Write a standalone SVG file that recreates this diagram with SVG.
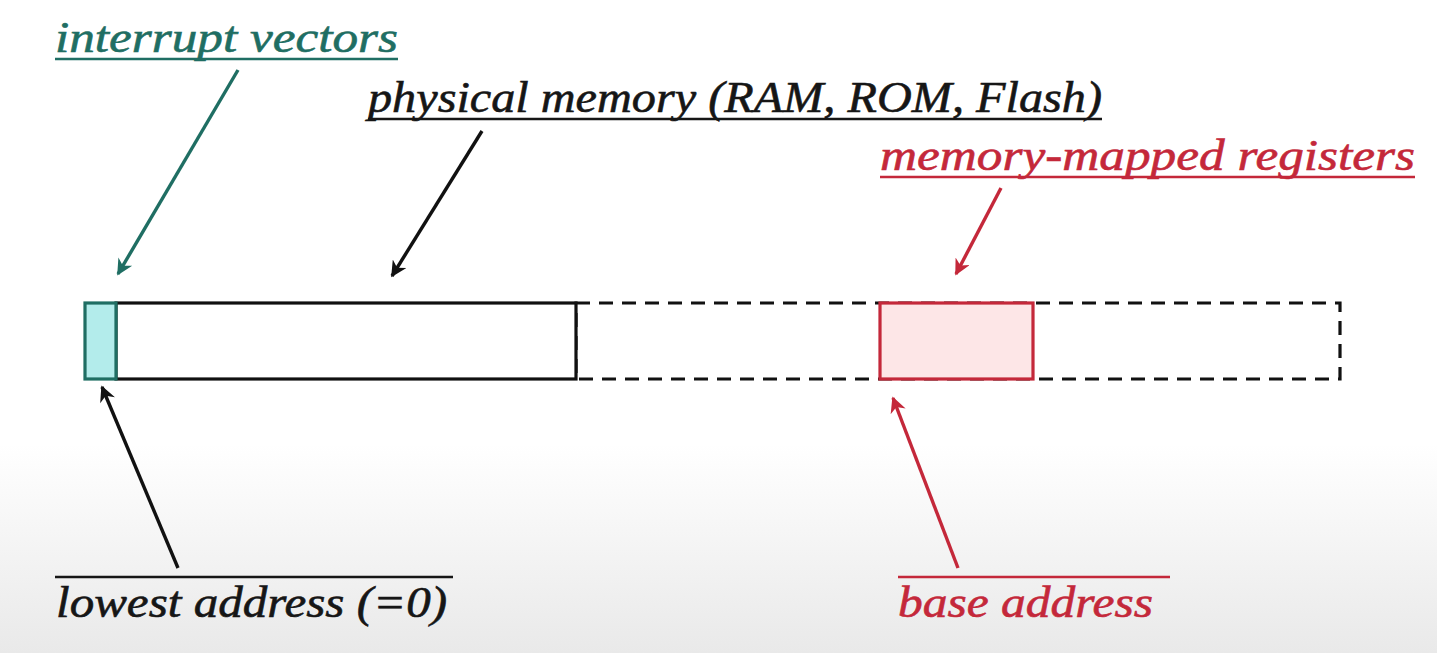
<svg xmlns="http://www.w3.org/2000/svg" width="1437" height="653" viewBox="0 0 1437 653">
<defs>
<linearGradient id="bg" x1="0" y1="0" x2="0" y2="653" gradientUnits="userSpaceOnUse">
<stop offset="0" stop-color="#ffffff"/>
<stop offset="0.68" stop-color="#ffffff"/>
<stop offset="1" stop-color="#e9e9e9"/>
</linearGradient>
<marker id="ah-k" viewBox="0 0 10 10" refX="9" refY="5" markerWidth="20" markerHeight="16" markerUnits="userSpaceOnUse" orient="auto"><path d="M0,0 L10,5 L0,10 L3,5 Z" fill="#111"/></marker>
<marker id="ah-t" viewBox="0 0 10 10" refX="9" refY="5" markerWidth="20" markerHeight="16" markerUnits="userSpaceOnUse" orient="auto"><path d="M0,0 L10,5 L0,10 L3,5 Z" fill="#1f6e63"/></marker>
<marker id="ah-r" viewBox="0 0 10 10" refX="9" refY="5" markerWidth="20" markerHeight="16" markerUnits="userSpaceOnUse" orient="auto"><path d="M0,0 L10,5 L0,10 L3,5 Z" fill="#c4283a"/></marker>
</defs>
<style>
.lbl{font-family:"Liberation Serif","DejaVu Serif",serif;font-style:italic;font-size:44px;stroke-width:0.6}
.k{fill:#161616;stroke:#161616}.t{fill:#1f6e63;stroke:#1f6e63}.r{fill:#c4283a;stroke:#c4283a}
.ln{stroke-width:3.4;fill:none}
.ul{stroke-width:2.4}
</style>
<rect width="1437" height="653" fill="url(#bg)"/>

<g id="memory-bar">
<rect x="576" y="303" width="764" height="76" fill="none" stroke="#111" stroke-width="3.2" stroke-dasharray="14,9"/>
<rect x="116" y="303" width="460" height="76" fill="#ffffff" stroke="#111" stroke-width="3.2"/>
</g>
<g id="interrupt-block">
<rect x="85" y="303" width="31" height="76" fill="#b3eceb" stroke="#1f6e63" stroke-width="3.2"/>
</g>
<g id="register-block">
<rect x="880" y="303" width="153" height="76" fill="#fde6e7" stroke="#c4283a" stroke-width="3.2"/>
</g>

<g id="label-interrupt">
<text class="lbl t" x="55" y="52" textLength="343" lengthAdjust="spacingAndGlyphs">interrupt vectors</text>
<line class="ul" x1="55" y1="59" x2="398" y2="59" stroke="#1f6e63"/>
</g>
<g id="label-physical">
<text class="lbl k" x="368" y="112" textLength="734" lengthAdjust="spacingAndGlyphs">physical memory (RAM, ROM, Flash)</text>
<line class="ul" x1="368" y1="119" x2="1102" y2="119" stroke="#161616"/>
</g>
<g id="label-registers">
<text class="lbl r" x="880" y="170" textLength="535" lengthAdjust="spacingAndGlyphs">memory-mapped registers</text>
<line class="ul" x1="880" y1="177" x2="1415" y2="177" stroke="#c4283a"/>
</g>
<g id="label-lowest">
<line class="ul" x1="55" y1="577" x2="453" y2="577" stroke="#161616"/>
<text class="lbl k" x="56" y="617" textLength="391" lengthAdjust="spacingAndGlyphs">lowest address (=0)</text>
</g>
<g id="label-base">
<line class="ul" x1="898" y1="577" x2="1170" y2="577" stroke="#c4283a"/>
<text class="lbl r" x="898" y="617" textLength="255" lengthAdjust="spacingAndGlyphs">base address</text>
</g>

<g id="connectors">
<line class="ln" x1="238" y1="70" x2="118" y2="274" stroke="#1f6e63" marker-end="url(#ah-t)"/>
<line class="ln" x1="482" y1="131" x2="392" y2="276" stroke="#111" marker-end="url(#ah-k)"/>
<line class="ln" x1="1001" y1="188" x2="956" y2="274" stroke="#c4283a" marker-end="url(#ah-r)"/>
<line class="ln" x1="178" y1="568" x2="102" y2="387" stroke="#111" marker-end="url(#ah-k)"/>
<line class="ln" x1="958" y1="568" x2="893" y2="398" stroke="#c4283a" marker-end="url(#ah-r)"/>
</g>
</svg>
